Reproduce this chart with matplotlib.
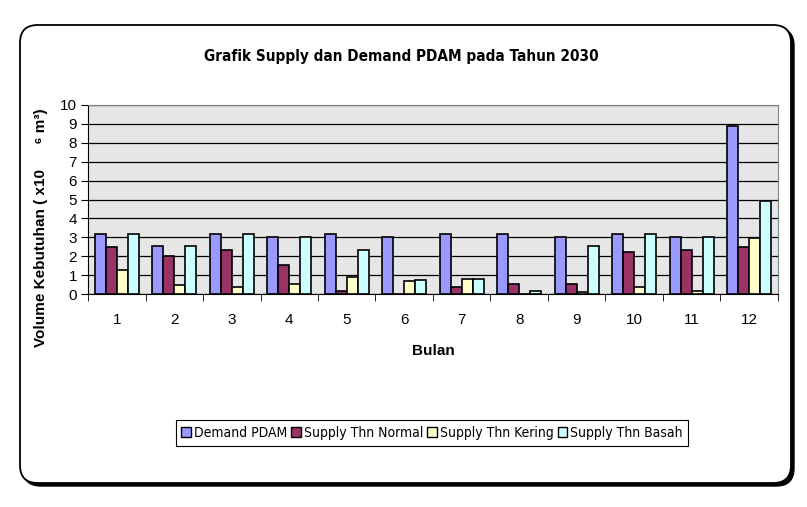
import numpy as np
import matplotlib.pyplot as plt
from matplotlib.patches import FancyBboxPatch, Patch

# Data
bulan = ['1', '2', '3', '4', '5', '6', '7', '8', '9', '10', '11', '12']
demand_pdam = [3.2, 2.55, 3.2, 3.0, 3.2, 3.0, 3.2, 3.2, 3.0, 3.2, 3.0, 8.9]
supply_normal = [2.5, 2.0, 2.35, 1.55, 0.17, 0.0, 0.38, 0.52, 0.52, 2.2, 2.35, 2.5]
supply_kering = [1.25, 0.45, 0.38, 0.55, 0.9, 0.68, 0.82, 0.0, 0.08, 0.38, 0.15, 2.95]
supply_basah = [3.2, 2.55, 3.2, 3.0, 2.35, 0.75, 0.82, 0.17, 2.55, 3.2, 3.0, 4.9]

series = [
    ('Demand PDAM', demand_pdam, '#9999FF'),
    ('Supply Thn Normal', supply_normal, '#993366'),
    ('Supply Thn Kering', supply_kering, '#FFFFCC'),
    ('Supply Thn Basah', supply_basah, '#CCFFFF'),
]

plt.rcParams['font.family'] = ['Liberation Sans', 'DejaVu Sans']

fig = plt.figure(figsize=(8.07, 5.07), dpi=100)
W, H = 807, 507

# rounded frame with a small drop shadow (right and bottom)
shadow = FancyBboxPatch((23 / W, 21 / H), 771 / W, 458 / H,
                        boxstyle='round,pad=0,rounding_size=0.022',
                        transform=fig.transFigure, facecolor='black',
                        edgecolor='black', lw=1, zorder=-2, mutation_aspect=W / H)
frame = FancyBboxPatch((20 / W, 24 / H), 771 / W, 458 / H,
                       boxstyle='round,pad=0,rounding_size=0.022',
                       transform=fig.transFigure, facecolor='white',
                       edgecolor='black', lw=1.3, zorder=-1, mutation_aspect=W / H)
fig.patches.extend([shadow, frame])

ax = fig.add_axes([88 / W, 1 - 294 / H, 690 / W, 189 / H])
ax.set_facecolor('#E6E6E6')

x = np.arange(len(bulan))
bw = 0.19
for i, (name, vals, col) in enumerate(series):
    ax.bar(x + (i - 1.5) * bw, vals, width=bw, color=col,
           edgecolor='black', linewidth=1.2, label=name, zorder=3)

ax.set_xlim(-0.5, len(bulan) - 0.5)
ax.set_ylim(0, 10)
ax.set_yticks(range(0, 11))
ax.yaxis.grid(True, color='black', linewidth=0.9, zorder=1)
ax.set_axisbelow(True)

ax.set_xticks(x)
ax.set_xticklabels(bulan, fontsize=11)
ax.set_xticks(np.arange(-0.5, len(bulan)), minor=True)
ax.tick_params(axis='x', which='major', length=0, pad=14)
ax.tick_params(axis='x', which='minor', length=5, direction='out', color='black')
ax.tick_params(axis='y', length=5, direction='out', labelsize=11, pad=3)

for side in ['top', 'right']:
    ax.spines[side].set_color('#808080')
ax.spines['left'].set_color('black')
ax.spines['bottom'].set_color('black')

ax.set_xlabel('Bulan', fontsize=11, fontweight='bold', labelpad=12)
ax.set_ylabel('Volume Kebutuhan ( x10      \u2076 m\u00b3)', fontsize=11,
              fontweight='bold')
ax.yaxis.set_label_coords(-0.058, 0.35)

fig.text(0.497, 1 - 57 / H, 'Grafik Supply dan Demand PDAM pada Tahun 2030',
         ha='center', va='center', fontsize=11, fontweight='bold',
         family='DejaVu Sans', fontstretch='condensed')

handles = [Patch(facecolor=c, edgecolor='black', linewidth=1) for _, _, c in series]
labels = [n for n, _, _ in series]
leg = fig.legend(handles, labels, loc='center', bbox_to_anchor=(432 / W, 1 - 433 / H),
                 ncol=4, fancybox=False, edgecolor='black', framealpha=1,
                 handlelength=0.7, handleheight=0.7, handletextpad=0.2,
                 columnspacing=0.3, borderpad=0.4,
                 prop={'family': 'DejaVu Sans', 'stretch': 'condensed', 'size': 10})
leg.get_frame().set_linewidth(0.8)

fig.savefig('out.png', dpi=100)
